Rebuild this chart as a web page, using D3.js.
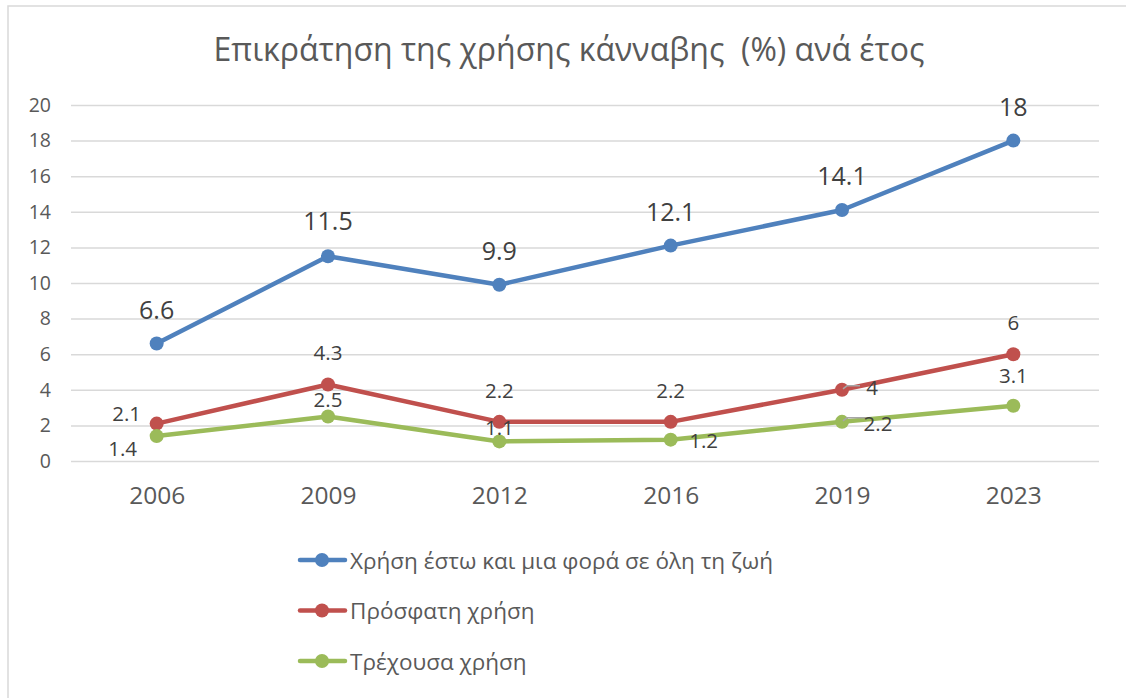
<!DOCTYPE html>
<html><head><meta charset="utf-8">
<script src="https://cdn.jsdelivr.net/npm/d3@7"></script>
<style>
html,body{margin:0;padding:0;background:#fff;}
svg{display:block;font-family:"Open Sans",Lato,sans-serif;}
text{white-space:pre;}
</style></head>
<body><svg id="c" width="1126" height="698"></svg>
<script>
const title = "Επικράτηση της χρήσης κάνναβης  (%) ανά έτος";
const years = ["2006","2009","2012","2016","2019","2023"];
const seriesNames = ["Χρήση έστω και μια φορά σε όλη τη ζωή","Πρόσφατη χρήση","Τρέχουσα χρήση"];
const lifetime = [6.6, 11.5, 9.9, 12.1, 14.1, 18];
const recent = [2.1, 4.3, 2.2, 2.2, 4, 6];
const current = [1.4, 2.5, 1.1, 1.2, 2.2, 3.1];
const yTicks = [0,2,4,6,8,10,12,14,16,18,20];
const colors = ["#4F81BD","#C0504D","#9BBB59"];

// label layout (offsets of label centre from its point, in px), kept apart from the data
const labelOffsets = [
  [[0,-35],[0,-36],[0,-35],[0,-35],[0,-35],[0,-35]],
  [[-30,-11],[0,-32],[0,-32],[0,-32],[30,-3],[0,-32]],
  [[-34,12],[0,-18],[0,-14],[33,0],[36,1],[0,-31]]
];
const leaders = [[false,false,false,false,false,false],
                 [false,false,false,false,true,false],
                 [false,false,false,false,true,false]];

const svg = d3.select("#c");
svg.append("rect").attr("x",8).attr("y",6).attr("width",1130).attr("height",700)
  .attr("fill","#fff").attr("stroke","#d9d9d9").attr("stroke-width",1.5);

svg.append("text").attr("x",569).attr("y",52).attr("text-anchor","middle")
  .attr("dominant-baseline","middle")
  .attr("font-size",32).attr("fill","#595959").text(title);

const x = d3.scalePoint().domain(years).range([71,1099]).padding(0.5);
const y = d3.scaleLinear().domain([0,20]).range([461,105]);

const yAxis = svg.append("g").attr("transform","translate(71,0)")
  .call(d3.axisLeft(y).tickValues(yTicks).tickSize(-1028).tickPadding(20));
yAxis.select(".domain").remove();
yAxis.selectAll(".tick line").attr("stroke","#d9d9d9").attr("stroke-width",1.5);
yAxis.selectAll(".tick text").attr("font-size",19.5).attr("fill","#595959")
  .attr("font-family","'Open Sans',sans-serif");

const xAxis = svg.append("g").attr("transform","translate(0,461)")
  .call(d3.axisBottom(x).tickSize(0).tickPadding(26));
xAxis.select(".domain").remove();
xAxis.selectAll(".tick text").attr("font-size",24.5).attr("fill","#595959")
  .attr("font-family","'Open Sans',sans-serif");

const all = [
  {vals: lifetime, fs: 25},
  {vals: recent, fs: 20.5},
  {vals: current, fs: 20.5}
];
const line = d3.line().x((d,i)=>x(years[i])).y(d=>y(d));
all.forEach((s,k)=>{
  const g = svg.append("g");
  g.append("path").attr("d",line(s.vals)).attr("fill","none")
    .attr("stroke",colors[k]).attr("stroke-width",4.5).attr("stroke-linejoin","round").attr("stroke-linecap","round");
  g.selectAll("circle").data(s.vals).join("circle")
    .attr("cx",(d,i)=>x(years[i])).attr("cy",d=>y(d)).attr("r",7).attr("fill",colors[k]);
});
all.forEach((s,k)=>{
  s.vals.forEach((v,i)=>{
    const px = x(years[i]), py = y(v);
    const [dx,dy] = labelOffsets[k][i];
    if(leaders[k][i]){
      svg.append("polyline").attr("points",`${px+1},${py-1} ${px+5},${py-4} ${px+dx-12},${py-4}`)
        .attr("fill","none").attr("stroke","#a6a6a6").attr("stroke-width",1.5);
    }
    svg.append("text").attr("x",px+dx).attr("y",py+dy).attr("text-anchor","middle")
      .attr("dominant-baseline","central").attr("font-size",s.fs).attr("fill","#404040").text(v);
  });
});

// legend
const leg = svg.append("g");
seriesNames.forEach((n,k)=>{
  const ly = 560 + k*50.5;
  leg.append("line").attr("x1",300).attr("x2",345).attr("y1",ly).attr("y2",ly)
    .attr("stroke",colors[k]).attr("stroke-width",4.5).attr("stroke-linecap","round");
  leg.append("circle").attr("cx",322).attr("cy",ly).attr("r",7).attr("fill",colors[k]);
  leg.append("text").attr("x",350).attr("y",ly).attr("dominant-baseline","central")
    .attr("font-size",22.5).attr("fill","#595959").text(n);
});
</script></body></html>
